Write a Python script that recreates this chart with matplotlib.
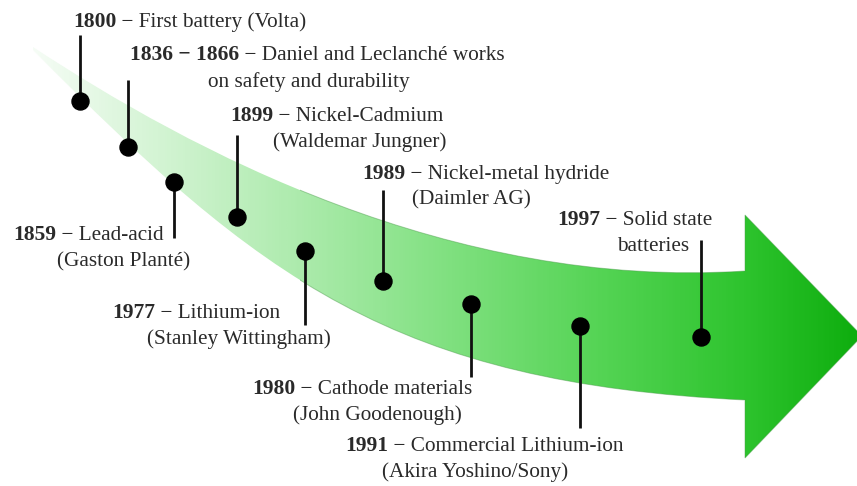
import numpy as np
import matplotlib.pyplot as plt
from matplotlib.path import Path
from matplotlib.patches import PathPatch, Rectangle
from matplotlib.colors import LinearSegmentedColormap

plt.rcParams['font.family'] = ['Liberation Serif', 'DejaVu Serif']

# milestones (in the order the dots sit along the arrow)
years = ['1800', '1836 − 1866', '1859', '1899', '1977', '1989', '1980', '1991', '1997']
titles = ['First battery (Volta)', 'Daniel and Leclanché works', 'Lead-acid',
          'Nickel-Cadmium', 'Lithium-ion', 'Nickel-metal hydride',
          'Cathode materials', 'Commercial Lithium-ion', 'Solid state']
subtitles = ['', 'on safety and durability', '(Gaston Planté)', '(Waldemar Jungner)',
             '(Stanley Wittingham)', '(Daimler AG)', '(John Goodenough)',
             '(Akira Yoshino/Sony)', 'batteries']

# layout in pixel units (picture is 857 x 486)
dot_x = [80, 128, 174, 237, 305, 383, 471, 580, 701]
dot_y = [101, 147, 182, 217, 251, 281, 304, 326, 337]
stem_end = [35, 80, 238, 135, 325, 190, 377, 428, 240]
line1_xy = [(73, 22), (130, 55), (13, 235), (230, 116), (112, 313),
            (362, 174), (252, 389), (345, 446), (557, 220)]
line2_xy = [None, (208, 82), (57, 262), (273, 142), (147, 339),
            (412, 200), (293, 415), (382, 472), (617, 246)]

fig = plt.figure(figsize=(8.57, 4.86), dpi=100)
ax = fig.add_axes([0, 0, 1, 1])
ax.set_xlim(0, 857)
ax.set_ylim(486, 0)
ax.axis('off')

# curved arrow outline
verts = [(33, 47), (190, 150), (450, 290), (745, 271),
         (745, 215), (862, 336), (745, 458), (745, 400),
         (395, 383), (260, 280), (33, 50), (33, 47)]
codes = [Path.MOVETO, Path.CURVE4, Path.CURVE4, Path.CURVE4,
         Path.LINETO, Path.LINETO, Path.LINETO, Path.LINETO,
         Path.CURVE4, Path.CURVE4, Path.CURVE4, Path.CLOSEPOLY]
arrow = Path(verts, codes)

cmap = LinearSegmentedColormap.from_list('grn', [
    (0.0, '#ffffff'), (0.06, '#f0fbf0'), (0.25, '#c4f0c4'), (0.4, '#a0e8a0'),
    (0.5, '#86e286'), (0.7, '#55d455'), (0.87, '#2ec42e'), (1.0, '#0fae0f')])
grad = np.tile(np.linspace(0, 1, 400), (10, 1))
im = ax.imshow(grad, cmap=cmap, extent=[0, 857, 486, 0], aspect='auto', zorder=1)
fill = PathPatch(arrow, facecolor='none', edgecolor='none', zorder=1)
ax.add_patch(fill)
im.set_clip_path(fill)

# faint outline only where the arrow is well coloured
edge = PathPatch(arrow, facecolor='none', edgecolor='#4a9a4a', lw=0.7, alpha=0.45, zorder=2)
ax.add_patch(edge)
edge.set_clip_path(Rectangle((300, 0), 600, 486, transform=ax.transData))

# stems and dots
ax.vlines(dot_x, dot_y, stem_end, color='#111111', lw=2.0, zorder=3)
ax.scatter(dot_x, dot_y, s=150, color='black', zorder=4)

# labels: bold year, then the regular text right after it
renderer = fig.canvas.get_renderer()
fs = 15.3
for yr, t1, t2, p1, p2 in zip(years, titles, subtitles, line1_xy, line2_xy):
    tb = ax.text(p1[0], p1[1], yr, fontsize=15.5, fontweight='bold',
                 ha='left', va='center', color='#2a2a2a', zorder=5)
    w = tb.get_window_extent(renderer).width
    ax.text(p1[0] + w, p1[1], ' − ' + t1, fontsize=fs,
            ha='left', va='center', color='#2a2a2a', zorder=5)
    if p2 is not None:
        ax.text(p2[0], p2[1], t2, fontsize=fs, ha='left', va='center',
                color='#2a2a2a', zorder=5)

fig.savefig('out.png', dpi=100)
